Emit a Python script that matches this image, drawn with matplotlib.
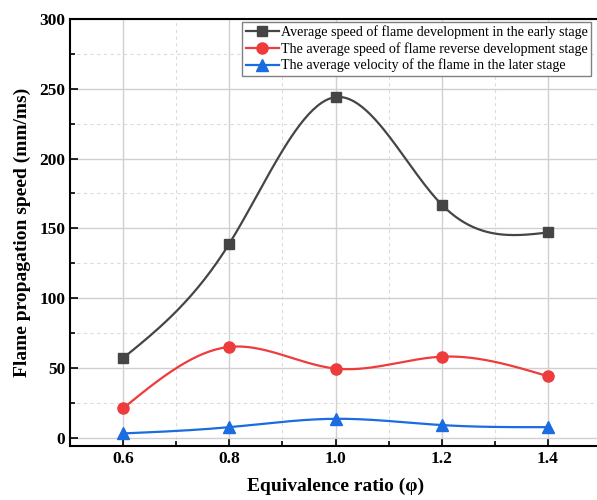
import numpy as np
import matplotlib
matplotlib.use("Agg")
import matplotlib.pyplot as plt
from matplotlib.ticker import MultipleLocator

# data
phi = [0.6, 0.8, 1.0, 1.2, 1.4]
early = [57, 139, 244, 167, 147]
reverse = [21, 65, 49.5, 58, 44]
later = [3, 7.5, 13.5, 9, 7.5]

labels = ["Average speed of flame development in the early stage",
          "The average speed of flame reverse development stage",
          "The average velocity of the flame in the later stage"]
colors = ["#454545", "#EE3B3B", "#1B6CE0"]
markers = ["s", "o", "^"]


# natural cubic spline, only used to draw the smooth connecting line
def spline(x, y, n=200):
    x = np.asarray(x, float)
    y = np.asarray(y, float)
    m = len(x)
    h = np.diff(x)
    A = np.zeros((m, m))
    b = np.zeros(m)
    A[0, 0] = A[-1, -1] = 1
    for i in range(1, m - 1):
        A[i, i - 1] = h[i - 1]
        A[i, i] = 2 * (h[i - 1] + h[i])
        A[i, i + 1] = h[i]
        b[i] = 6 * ((y[i + 1] - y[i]) / h[i] - (y[i] - y[i - 1]) / h[i - 1])
    M = np.linalg.solve(A, b)
    xs = np.linspace(x[0], x[-1], n)
    idx = np.clip(np.searchsorted(x, xs) - 1, 0, m - 2)
    x0, x1 = x[idx], x[idx + 1]
    hh = x1 - x0
    t0, t1 = x1 - xs, xs - x0
    ys = (M[idx] * t0**3 + M[idx + 1] * t1**3) / (6 * hh) \
        + (y[idx] / hh - M[idx] * hh / 6) * t0 \
        + (y[idx + 1] / hh - M[idx + 1] * hh / 6) * t1
    return xs, ys


plt.rcParams['font.family'] = ['Liberation Serif', 'DejaVu Serif']

fig = plt.figure(figsize=(5.97, 5.0), dpi=100)
# axes reach just past the right edge, the reference is cropped there
W = 531
ax = fig.add_axes([70 / 597, 1 - 446 / 500, W / 597, 427 / 500])

for ys, c, mk, lab in zip([early, reverse, later], colors, markers, labels):
    sx, sy = spline(phi, ys)
    ms = 7 if mk == 's' else 8
    ax.plot(sx, sy, color=c, lw=1.6, zorder=3)
    ax.plot(phi, ys, ls='none', marker=mk, color=c, ms=ms, zorder=4)
    ax.plot([], [], color=c, lw=1.6, marker=mk, ms=ms, label=lab)

ax.set_xlim(0.5, 1.5)
ax.set_ylim(-6, 300)
ax.xaxis.set_minor_locator(MultipleLocator(0.1))
ax.yaxis.set_major_locator(MultipleLocator(50))
ax.yaxis.set_minor_locator(MultipleLocator(25))
ax.set_xticks(phi)
ax.set_xticklabels(["0.6", "0.8", "1.0", "1.2", "1.4"])

ax.grid(which='major', color='#d0d0d0', lw=1.0)
ax.grid(which='minor', color='#dcdcdc', lw=0.8, ls=(0, (3, 3)))
ax.set_axisbelow(True)

for s in ax.spines.values():
    s.set_linewidth(1.5)
ax.tick_params(which='both', direction='in', width=1.2)
ax.tick_params(which='major', length=6, labelsize=12.5)
ax.tick_params(which='minor', length=3.5)
for t in ax.get_xticklabels() + ax.get_yticklabels():
    t.set_fontweight('bold')

ax.set_xlabel("Equivalence ratio (φ)", fontsize=14, fontweight='bold', labelpad=8)
ax.set_ylabel("Flame propagation speed (mm/ms)", fontsize=14, fontweight='bold', labelpad=6)

leg = ax.legend(loc='upper left', bbox_to_anchor=(172 / W, 1 - 3 / 427),
                fontsize=10.1, frameon=True, fancybox=False, framealpha=1,
                edgecolor='#808080', handlelength=2.4, handletextpad=0.1,
                labelspacing=0.2, borderpad=0.25, borderaxespad=0)
leg.get_frame().set_linewidth(1.0)

fig.savefig("out.png", dpi=100)
